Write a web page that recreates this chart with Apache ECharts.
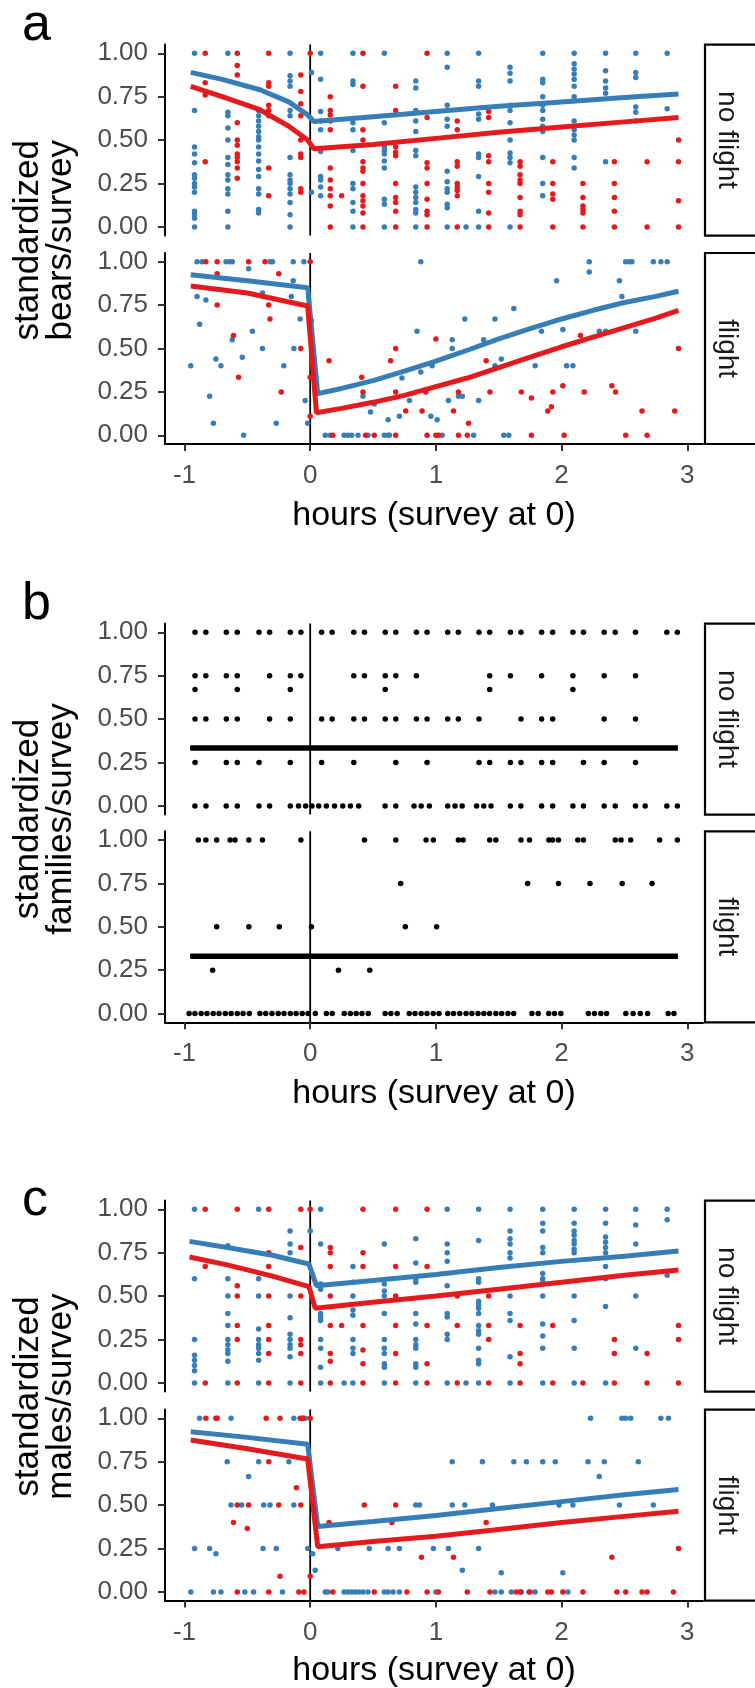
<!DOCTYPE html>
<html>
<head>
<meta charset="utf-8">
<script src="https://cdn.jsdelivr.net/npm/echarts@6/dist/echarts.min.js"></script>
<style>
html,body{margin:0;padding:0;background:#fff;}
#chart{width:755px;height:1688px;}
</style>
</head>
<body>
<div id="chart"></div>
<script>
// ---------- DATA ----------
const xTicks = [-1, 0, 1, 2, 3];
const yTicks = [0, 0.25, 0.5, 0.75, 1];
const panelLetters = ['a', 'b', 'c'];
const yTitles = [['standardized', 'bears/survey'], ['standardized', 'families/survey'], ['standardized', 'males/survey']];
const facetNames = ['no flight', 'flight'];
const xTitle = 'hours (survey at 0)';

// panel a, no flight: columns [hour, [values]]
const aNoFlightBlue = [
  [-0.92,[1,0.67,0.46,0.42,0.37,0.30,0.28,0.25,0.23,0.20,0.09,0.07,0.05,0]],
  [-0.655,[1,0.66,0.64,0.57,0.50,0.40,0.36,0.30,0.27,0.22,0.19,0.09,0]],
  [-0.41,[0.67,0.64,0.61,0.58,0.55,0.52,0.50,0.46,0.42,0.38,0.33,0.29,0.22,0.19,0.10,0.08]],
  [-0.16,[1,0.87,0.84,0.81,0.67,0.64,0.40,0.30,0.27,0.25,0.22,0.19,0.14,0.07,0]],
  [0.01,[0.89,0.20]],
  [0.083,[1,0.85,0.665,0.61,0.56,0.435,0.29,0.27,0.23,0.18]],
  [0.34,[1,0.84,0.82,0.60,0.56,0.44,0.25,0.22,0.14,0.09,0]],
  [0.59,[1,0.60,0.46,0.44,0.42,0.38,0.34,0.16,0.13,0]],
  [0.84,[0.84,0.80,0.67,0.61,0.55,0.44,0.41,0.23,0.20,0.17,0.14,0.10,0.08,0]],
  [1.09,[1,0.92,0.70,0.62,0.58,0.32,0.26,0.22,0.20,0.13,0.11,0]],
  [1.24,[0]],
  [1.34,[1,0.84,0.81,0.65,0.62,0.42,0.40,0.29,0.09,0]],
  [1.59,[0.92,0.885,0.84,0.70,0.67,0.60,0.50,0.425,0.40,0.37,0]],
  [1.85,[1,0.85,0.83,0.75,0.70,0.67,0.62,0.58,0.55,0.40,0.25,0.18]],
  [2.10,[1,0.94,0.91,0.88,0.85,0.81,0.75,0.61,0.56,0.53,0.50,0.40,0.34]],
  [2.35,[1,0.90,0.84,0.80,0.77,0.375]],
  [2.59,[1,0.89,0.86,0.69,0.66,0.61]],
  [2.84,[1,0.68]]
];
const aNoFlightRed = [
  [-0.835,[1,0.83,0.76,0.375]],
  [-0.58,[1,0.93,0.875,0.60,0.50,0.47,0.42,0.40,0.375,0.34,0.28]],
  [-0.33,[1,0.83,0.81,0.70,0.67,0.64,0.34,0.18]],
  [-0.075,[0.875,0.78,0.71,0.64,0.50,0.42,0.40,0.22,0.20]],
  [0.0,[1]],
  [0.16,[0.75,0.67,0.645,0.61,0.56,0.34,0.27,0.22,0.18,0.12,0]],
  [0.25,[0.18]],
  [0.42,[1,0.81,0.56,0.50,0.375,0.34,0.32,0.25,0.18,0.15,0.12,0.08,0]],
  [0.68,[0.81,0.67,0.46,0.43,0.41,0.25,0.17,0.14,0.09,0]],
  [0.93,[1,0.63,0.37,0.34,0.25,0.16,0.09,0.07,0]],
  [1.17,[0.61,0.56,0.375,0.35,0.25,0.23,0.21,0.18,0]],
  [1.42,[0.665,0.63,0.41,0.375,0.25,0.20,0.08,0]],
  [1.67,[0.375,0.35,0.30,0.27,0.25,0.17,0.09,0.07,0]],
  [1.93,[0.375,0.25,0.19,0.16,0]],
  [2.17,[0.25,0.17,0.12,0.10,0.08,0]],
  [2.42,[0.375,0.25,0.17,0.09,0]],
  [2.68,[0.375,0]],
  [2.93,[0.5,0.375,0.15,0]]
];
const aNoFlightBlueFit = [[-0.95,0.89],[-0.7,0.85],[-0.4,0.79],[-0.17,0.72],[-0.02,0.645],[0.03,0.607],[0.5,0.635],[1,0.665],[1.5,0.695],[2,0.72],[2.5,0.745],[2.93,0.765]];
const aNoFlightRedFit = [[-0.95,0.81],[-0.7,0.75],[-0.4,0.675],[-0.17,0.58],[-0.02,0.50],[0.03,0.45],[0.5,0.475],[1,0.51],[1.5,0.545],[2,0.575],[2.5,0.605],[2.93,0.63]];

// panel a, flight: [hour, value]
const aFlightBlue = [[-0.95,0.40],[-0.90,1],[-0.90,0.80],[-0.88,0.64],[-0.86,1],[-0.83,0.78],[-0.80,0.225],[-0.77,0.07],[-0.75,0.44],[-0.71,0.40],[-0.67,1],[-0.64,1],[-0.62,1],[-0.62,0.55],[-0.54,0.45],[-0.53,0],[-0.49,0.96],[-0.46,0.60],[-0.38,0.50],[-0.38,0.82],[-0.32,1],[-0.30,1],[-0.27,0.07],[-0.21,0.40],[-0.15,0.80],[-0.135,1],[-0.135,0.89],[-0.13,0.50],[-0.08,0.67],[-0.05,1],[-0.04,0.20],[-0.02,0.07],[0.01,0.66],[0.01,0.61],[0.12,0],[0.16,0],[0.27,0],[0.30,0],[0.33,0],[0.38,0],[0.42,0.225],[0.46,0],[0.48,0.135],[0.51,0.18],[0.59,0],[0.62,0],[0.63,0],[0.62,0.09],[0.71,0.11],[0.73,0.33],[0.79,0.20],[0.85,0.60],[0.88,1],[0.88,0.365],[0.96,0.11],[0.97,0.40],[1.01,0.09],[1.05,0],[1.10,0.20],[1.13,0.55],[1.13,0.50],[1.18,0.225],[1.21,0.225],[1.23,0.67],[1.30,0],[1.34,0.20],[1.38,0.55],[1.47,0.67],[1.47,0.40],[1.52,0.44],[1.54,0],[1.58,0],[1.62,0.73],[1.79,0.40],[1.84,0.60],[1.96,0.89],[2.01,0.61],[2.04,0.40],[2.09,0.40],[2.22,1],[2.22,0.94],[2.30,0.60],[2.35,0.60],[2.46,0.89],[2.48,0.80],[2.51,1],[2.54,1],[2.56,1],[2.59,0.60],[2.73,1],[2.79,1],[2.84,1]];
const aFlightRed = [[-0.83,1],[-0.74,1],[-0.74,0.93],[-0.74,0.75],[-0.61,0.575],[-0.57,0.335],[-0.49,1],[-0.36,1],[-0.33,0.75],[-0.32,0.67],[-0.25,0.93],[-0.23,0.25],[-0.075,0.50],[0,1],[0,0.335],[0,0.11],[0.15,0.43],[0.18,0],[0.41,0.335],[0.42,0.25],[0.44,0],[0.51,0],[0.64,0.43],[0.68,0.50],[0.68,0.25],[0.68,0],[0.76,0.14],[0.89,0.14],[0.92,0.25],[0.93,0],[1.0,0],[1.02,0],[1.0,0.555],[1.14,0.14],[1.18,0.25],[1.18,0],[1.26,0.07],[1.25,0],[1.40,0.43],[1.43,0.25],[1.68,0.25],[1.76,0.215],[1.76,0],[1.89,0.14],[1.92,0.165],[1.93,0.25],[2.01,0.285],[2.02,0],[2.15,0.575],[2.18,0.25],[2.40,0.285],[2.43,0.25],[2.51,0],[2.64,0.14],[2.68,0],[2.90,0.14],[2.93,0.50]];
const aFlightBlueFit = [[-0.95,0.925],[-0.5,0.89],[-0.02,0.85],[0.06,0.24],[0.25,0.27],[0.5,0.315],[0.75,0.37],[1,0.427],[1.25,0.49],[1.5,0.555],[1.75,0.615],[2,0.67],[2.25,0.72],[2.5,0.765],[2.75,0.80],[2.93,0.83]];
const aFlightRedFit = [[-0.95,0.86],[-0.5,0.82],[-0.02,0.745],[0.05,0.13],[0.25,0.155],[0.5,0.19],[0.75,0.23],[1,0.28],[1.25,0.33],[1.5,0.39],[1.75,0.45],[2,0.51],[2.25,0.565],[2.5,0.62],[2.75,0.675],[2.93,0.72]];

// panel b: rows [value, [hours]]
const bNoFlight = [
  [1,[-0.916,-0.83,-0.667,-0.58,-0.407,-0.323,-0.158,-0.074,0.091,0.175,0.347,0.432,0.597,0.681,0.845,0.93,1.094,1.179,1.343,1.428,1.593,1.677,1.841,1.929,2.09,2.174,2.339,2.427,2.588,2.837,2.921]],
  [0.75,[-0.916,-0.83,-0.667,-0.58,-0.323,-0.158,-0.074,0.347,0.432,0.597,0.681,0.845,1.428,1.593,1.841,2.09,2.339,2.588]],
  [0.67,[-0.916,-0.58,-0.158,0.597,1.428,2.09]],
  [0.5,[-0.916,-0.83,-0.667,-0.58,-0.323,-0.158,0.091,0.175,0.347,0.432,0.597,0.681,0.845,0.93,1.094,1.179,1.343,1.677,1.841,1.929,2.339,2.588]],
  [0.25,[-0.916,-0.667,-0.58,-0.407,-0.158,0.091,0.347,0.681,0.93,1.343,1.428,1.593,1.677,1.841,1.929,2.174,2.339,2.588]],
  [0,[-0.917,-0.829,-0.668,-0.58,-0.407,-0.323,-0.158,-0.093,-0.036,0.014,0.068,0.129,0.194,0.259,0.32,0.386,0.596,0.681,0.826,0.883,0.948,1.094,1.152,1.209,1.324,1.381,1.439,1.592,1.676,1.841,1.929,2.09,2.174,2.339,2.427,2.588,2.665,2.837,2.921]]
];
const bFlight = [
  [1,[-0.89,-0.83,-0.744,-0.637,-0.598,-0.488,-0.38,-0.074,0.432,0.681,0.922,0.98,1.179,1.217,1.428,1.477,1.677,1.745,1.899,1.929,1.975,2.129,2.174,2.427,2.473,2.55,2.78,2.921]],
  [0.75,[0.72,1.73,1.975,2.226,2.482,2.72]],
  [0.5,[-0.744,-0.488,-0.246,0.01,0.757,1.006]],
  [0.25,[-0.776,0.225,0.474]],
  [0,[-0.963,-0.917,-0.867,-0.821,-0.771,-0.725,-0.675,-0.629,-0.58,-0.534,-0.484,-0.40,-0.354,-0.304,-0.254,-0.208,-0.158,-0.112,-0.063,-0.017,0.041,0.129,0.175,0.271,0.32,0.366,0.412,0.462,0.596,0.642,0.692,0.788,0.834,0.883,0.929,0.979,1.025,1.094,1.14,1.19,1.24,1.286,1.335,1.381,1.427,1.477,1.523,1.573,1.619,1.764,1.814,1.898,1.944,1.994,2.213,2.262,2.312,2.358,2.511,2.569,2.626,2.684,2.848,2.894]]
];
const bNoFlightFit = [[-0.955,0.333],[2.925,0.333]];
const bFlightFit = [[-0.955,0.33],[2.925,0.33]];

// panel c, no flight: columns
const cNoFlightBlue = [
  [-0.92,[1,0.60,0.25,0.16,0.13,0.10,0.07,0]],
  [-0.655,[0.79,0.60,0.50,0.40,0.33,0.25,0.22,0.19,0.17,0.125,0]],
  [-0.41,[1,0.60,0.50,0.31,0.25,0.22,0.20,0.17,0.13,0]],
  [-0.16,[0.875,0.80,0.75,0.50,0.375,0.28,0.25,0.22,0.20,0.15,0]],
  [0.0,[0.875]],
  [0.083,[1,0.80,0.57,0.54,0.40,0.38,0.36,0.25,0.20,0.09,0]],
  [0.27,[0]],
  [0.34,[0.67,0.58,0.50,0.42,0.39,0.25,0.20,0.17,0]],
  [0.59,[0.80,0.57,0.53,0.50,0.40,0.25,0.20,0.17,0.11,0.09,0]],
  [0.84,[0.83,0.69,0.60,0.58,0.40,0.34,0.25,0.22,0.20,0.11,0.09,0]],
  [1.09,[1,0.80,0.75,0.70,0.56,0.40,0.38,0.28,0.25,0]],
  [1.24,[0]],
  [1.34,[1,0.82,0.60,0.58,0.47,0.45,0.43,0.40,0.33,0.30,0.28,0.20,0.13,0.11,0]],
  [1.59,[1,0.875,0.83,0.80,0.75,0.72,0.50,0.40,0.36,0.15,0]],
  [1.85,[1,0.92,0.875,0.78,0.75,0.63,0.60,0.58,0.50,0.34,0.27,0.20,0]],
  [2.10,[1,0.92,0.875,0.85,0.82,0.80,0.77,0.75,0.50,0.36,0.20,0]],
  [2.35,[1,0.92,0.84,0.81,0.78,0.75,0.67,0.60,0.44,0]],
  [2.59,[1,0.91,0.80,0.50,0.20]],
  [2.84,[1,0.94,0.62]]
];
const cNoFlightRed = [
  [-0.835,[1,0.67,0]],
  [-0.58,[1,0.56,0.50,0.33,0.25,0]],
  [-0.33,[1,0.75,0.67,0.50,0.33,0.25,0.17,0]],
  [-0.075,[1,0.78,0.50,0.25,0.22,0.17,0]],
  [0.0,[1]],
  [0.16,[0.78,0.75,0.67,0.50,0.33,0.17,0.125,0]],
  [0.25,[0.33]],
  [0.42,[1,0.75,0.67,0.33,0.19,0.11,0]],
  [0.68,[1,0.67,0.50,0.33,0.17,0]],
  [0.93,[1,0.67,0.33,0.11,0]],
  [1.17,[0.50,0.33,0]],
  [1.42,[0.50,0.33,0.25,0]],
  [1.67,[0.33,0.17,0.11,0]],
  [1.93,[0.33,0]],
  [2.17,[0]],
  [2.42,[0.25,0.17,0]],
  [2.68,[0.17,0]],
  [2.93,[0.33,0.25,0]]
];
const cNoFlightBlueFit = [[-0.96,0.815],[-0.66,0.78],[-0.3,0.735],[-0.01,0.685],[0.05,0.56],[0.5,0.59],[1,0.625],[1.5,0.665],[2,0.70],[2.5,0.73],[2.93,0.76]];
const cNoFlightRedFit = [[-0.96,0.725],[-0.66,0.68],[-0.3,0.615],[-0.01,0.555],[0.04,0.43],[0.5,0.465],[1,0.50],[1.5,0.54],[2,0.58],[2.5,0.62],[2.93,0.65]];

// panel c, flight: [hour, value]
const cFlightBlue = [[-0.95,0],[-0.92,0.25],[-0.88,1],[-0.80,0.25],[-0.77,0],[-0.71,0],[-0.75,0.22],[-0.66,0.75],[-0.63,1],[-0.63,0.5],[-0.545,0.5],[-0.52,0],[-0.45,0],[-0.49,0.665],[-0.41,0.75],[-0.375,0.25],[-0.37,0.5],[-0.32,0.5],[-0.27,0.25],[-0.22,0],[-0.17,0.75],[-0.13,1],[-0.13,0.5],[-0.06,1],[-0.04,1],[-0.02,0.25],[0.02,0.22],[0.04,0.125],[0.12,0],[0.14,0],[0.22,0.25],[0.27,0],[0.30,0],[0.33,0],[0.36,0],[0.39,0],[0.42,0],[0.46,0],[0.47,0.25],[0.59,0],[0.62,0],[0.66,0],[0.71,0],[0.62,0.25],[0.71,0.25],[0.84,0.5],[0.87,0.5],[0.98,0.25],[1.0,0],[1.10,0.25],[1.13,0.75],[1.13,0.5],[1.21,0.125],[1.23,0.5],[1.34,0.25],[1.37,0.75],[1.45,0.5],[1.47,0],[1.52,0],[1.60,0],[1.68,0],[1.74,0],[1.79,0],[1.52,0.11],[1.62,0.75],[1.72,0.75],[1.85,0.75],[1.95,0.75],[1.98,0.5],[2.01,0.11],[2.05,0],[2.09,0.5],[2.21,0.75],[2.23,1],[2.30,0.665],[2.34,0.75],[2.46,0.5],[2.48,1],[2.51,1],[2.55,1],[2.61,0.75],[2.73,0.5],[2.79,1],[2.85,1]];
const cFlightRed = [[-0.83,1],[-0.75,1],[-0.74,1],[-0.61,0.40],[-0.58,0.5],[-0.49,0.5],[-0.58,0],[-0.50,0.365],[-0.35,1],[-0.24,1],[-0.33,0.75],[-0.33,0],[-0.25,0.5],[-0.24,0.09],[-0.11,0.60],[-0.08,1],[-0.06,1],[-0.075,0.5],[-0.09,0],[-0.05,0],[0,1],[0,0.09],[0.15,0.40],[0.18,0],[0.43,0.5],[0.51,0],[0.65,0.40],[0.68,0.5],[0.77,0],[0.885,0.20],[0.93,0],[1.02,0],[1.14,0.20],[1.25,0],[1.40,0.40],[1.43,0],[1.64,0],[1.67,0],[1.75,0],[1.89,0],[1.92,0],[2.01,0],[2.17,0],[2.40,0.20],[2.44,0],[2.51,0],[2.64,0],[2.68,0],[2.89,0],[2.93,0.25]];
const cFlightBlueFit = [[-0.95,0.923],[-0.5,0.89],[-0.02,0.85],[0.06,0.377],[0.5,0.405],[1,0.44],[1.5,0.48],[2,0.52],[2.5,0.56],[2.93,0.59]];
const cFlightRedFit = [[-0.95,0.875],[-0.5,0.825],[-0.02,0.765],[0.06,0.26],[0.5,0.29],[1,0.32],[1.5,0.36],[2,0.40],[2.5,0.435],[2.93,0.465]];

// ---------- LAYOUT / STYLE ----------
const FONT = "'Liberation Sans', Arial, sans-serif";
const XTITLE_PX = 34, YTITLE_PX = 35, STRIP_PX = 28, TICK_PX = 26, LETTER_PX = 52;
const BLUE = '#377EB8', RED = '#E41A1C';
const GRID_LEFT = 165, GRID_W = 538, GRID_H = 191;
const facetTops = [44.6, 253, 623.6, 831.3, 1200.6, 1409.6];
const letterShift = [0, 0, 19];
const xTitleGap = [72, 71, 70];
const X_MIN = -1.155, X_MAX = 3.125, Y_MIN = -0.05, Y_MAX = 1.05;

function fromCols(c){ const o=[]; c.forEach(([x,ys])=>ys.forEach(y=>o.push([x,y]))); return o; }
function fromRows(r){ const o=[]; r.forEach(([y,xs])=>xs.forEach(x=>o.push([x,y]))); return o; }

const facets = [
  {pts:[[fromCols(aNoFlightBlue),BLUE],[fromCols(aNoFlightRed),RED]], fits:[[aNoFlightBlueFit,BLUE],[aNoFlightRedFit,RED]]},
  {pts:[[aFlightBlue,BLUE],[aFlightRed,RED]], fits:[[aFlightBlueFit,BLUE],[aFlightRedFit,RED]]},
  {pts:[[fromRows(bNoFlight),'#000']], fits:[[bNoFlightFit,'#000']]},
  {pts:[[fromRows(bFlight),'#000']], fits:[[bFlightFit,'#000']]},
  {pts:[[fromCols(cNoFlightBlue),BLUE],[fromCols(cNoFlightRed),RED]], fits:[[cNoFlightBlueFit,BLUE],[cNoFlightRedFit,RED]]},
  {pts:[[cFlightBlue,BLUE],[cFlightRed,RED]], fits:[[cFlightBlueFit,BLUE],[cFlightRedFit,RED]]}
];

const grid=[], xAxis=[], yAxis=[], series=[], graphic=[];
facets.forEach((f,i)=>{
  const isBottom = i%2===1;
  grid.push({left:GRID_LEFT, top:facetTops[i], width:GRID_W, height:GRID_H});
  xAxis.push({
    type:'value', gridIndex:i, min:X_MIN, max:X_MAX,
    splitLine:{show:false},
    axisLine:{show:isBottom, onZero:false, lineStyle:{color:'#000', width:2}},
    axisTick:{show:isBottom, length:7, lineStyle:{color:'#333', width:2}, customValues:xTicks},
    axisLabel:{show:isBottom, customValues:xTicks, margin:19, color:'#4D4D4D', fontSize:TICK_PX, fontFamily:FONT,
      formatter:v=>String(Math.round(v))}
  });
  yAxis.push({
    type:'value', gridIndex:i, min:Y_MIN, max:Y_MAX,
    splitLine:{show:false},
    axisLine:{show:true, onZero:false, lineStyle:{color:'#000', width:2}},
    axisTick:{show:true, length:7, lineStyle:{color:'#333', width:2}, customValues:yTicks},
    axisLabel:{customValues:yTicks, margin:17, color:'#4D4D4D', fontSize:TICK_PX, fontFamily:FONT,
      formatter:v=>v.toFixed(2)}
  });
  series.push({type:'line', xAxisIndex:i, yAxisIndex:i, data:[[0,Y_MIN],[0,Y_MAX]], symbol:'none',
    lineStyle:{color:'#000', width:1.8}, z:1, silent:true, animation:false});
  f.pts.forEach(([d,c])=>series.push({type:'scatter', xAxisIndex:i, yAxisIndex:i, data:d, symbolSize:5.5,
    itemStyle:{color:c, opacity:1}, z:2, animation:false}));
  f.fits.forEach(([d,c])=>series.push({type:'line', xAxisIndex:i, yAxisIndex:i, data:d, symbol:'none',
    lineStyle:{color:c, width:c==='#000'?5.5:5}, z:3, animation:false}));
  // strip
  graphic.push({type:'rect', shape:{x:705, y:facetTops[i], width:60, height:GRID_H},
    style:{fill:'#fff', stroke:'#000', lineWidth:2.2}});
  graphic.push({type:'text', x:727, y:facetTops[i]+GRID_H/2, rotation:-Math.PI/2,
    style:{text:facetNames[i%2], font:STRIP_PX+'px '+FONT, fill:'#1A1A1A', align:'center', verticalAlign:'middle'}});
});

// block labels and titles
[0,1,2].forEach(b=>{
  const top = facetTops[b*2], bottom = facetTops[b*2+1]+GRID_H;
  const mid = (top+bottom)/2;
  graphic.push({type:'text', x:22, y:top-45+letterShift[b], style:{text:panelLetters[b], font:LETTER_PX+'px '+FONT, fill:'#000', align:'left', verticalAlign:'top'}});
  graphic.push({type:'text', x:28, y:mid-4, rotation:Math.PI/2,
    style:{text:yTitles[b][0], font:YTITLE_PX+'px '+FONT, fill:'#000', align:'center', verticalAlign:'middle'}});
  graphic.push({type:'text', x:61, y:mid-4, rotation:Math.PI/2,
    style:{text:yTitles[b][1], font:YTITLE_PX+'px '+FONT, fill:'#000', align:'center', verticalAlign:'middle'}});
  graphic.push({type:'text', x:GRID_LEFT+GRID_W/2, y:bottom+xTitleGap[b],
    style:{text:xTitle, font:XTITLE_PX+'px '+FONT, fill:'#000', align:'center', verticalAlign:'middle'}});
});

const chart = echarts.init(document.getElementById('chart'), null, {renderer:'canvas'});
chart.setOption({animation:false, backgroundColor:'#fff', grid, xAxis, yAxis, series, graphic});
</script>
</body>
</html>
